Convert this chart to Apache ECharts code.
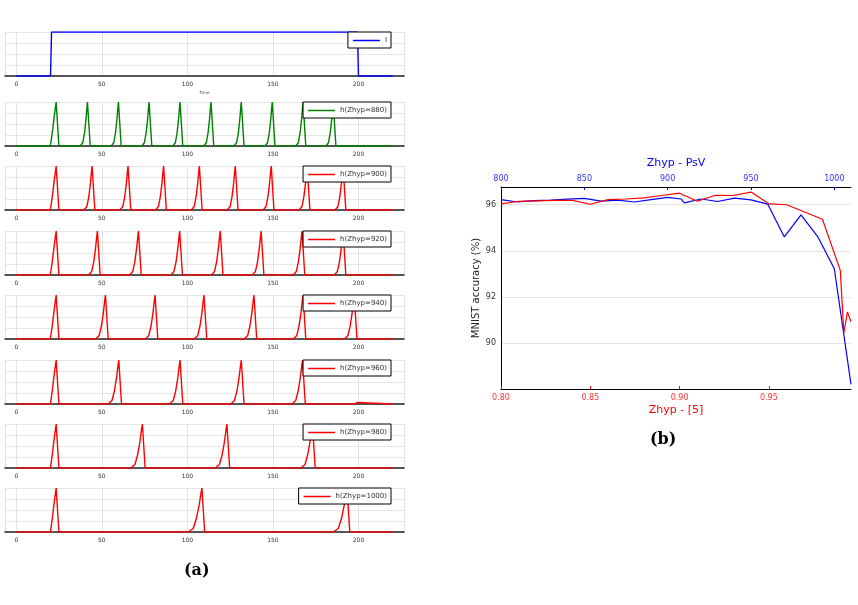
<!DOCTYPE html>
<html>
<head>
<meta charset="utf-8">
<title>Zhyp spikes / MNIST accuracy</title>
<script src="https://cdn.jsdelivr.net/npm/echarts@6.0.0/dist/echarts.min.js"></script>
<style>
	* { margin: 0; padding: 0; }
	body { background: #fff; }
	#main { width: 858px; height: 605px; }
</style>
</head>
<body>
<div id="main"></div>
<script>
	// ---- left panel (a): input current and h(t) for each Zhyp ----
	let timeTicks = [0, 50, 100, 150, 200];
	let currentI = [[0, 0], [20, 0], [20.6, 1], [199.4, 1], [200, 0], [220, 0]];
	let zhypNames = ['h(Zhyp=880)', 'h(Zhyp=900)', 'h(Zhyp=920)', 'h(Zhyp=940)', 'h(Zhyp=960)', 'h(Zhyp=980)', 'h(Zhyp=1000)'];
	let zhypColors = ['#008000', '#ff0000', '#ff0000', '#ff0000', '#ff0000', '#ff0000', '#ff0000'];
	// time at which each spike reaches its top
	let peaks880 = [23.3, 41.6, 59.7, 77.6, 95.7, 113.8, 131.5, 149.6, 167.6, 185.2];
	let peaks900 = [23.3, 44.3, 65.3, 86.1, 107, 128, 149, 170, 191];
	let peaks920 = [23.3, 47.4, 71.4, 95.5, 119.2, 143.1, 167, 191];
	let peaks940 = [23.3, 52.1, 81.1, 109.7, 138.9, 167.6, 197.5];
	let peaks960 = [23.3, 59.9, 95.7, 131.5, 167.3];
	let peaks980 = [23.3, 73.7, 123.1, 173.1];
	let peaks1000 = [23.3, 108.5, 193.3];
	let allPeaks = [peaks880, peaks900, peaks920, peaks940, peaks960, peaks980, peaks1000];
	// visible rise length of the later spikes
	let riseTimes = [4.2, 4.7, 5.2, 5.7, 6.2, 6.8, 8];
	// small bump cut off by the current switching off (960 only)
	let tail960 = [[197.5, 0], [199.6, 0.035], [200.4, 0]];
	// rise shapes (fraction of rise, h)
	let firstProfile = [[0, 0], [0.33, 0.3], [0.67, 0.68], [1, 1]];
	let spikeProfile = [[0, 0], [0.36, 0.08], [0.59, 0.3], [0.79, 0.6], [0.95, 0.92], [1, 1]];
	let firstRise = 3.4;
	let topHold = 0.8;
	let dropWidth = 0.8;

	// ---- right panel (b): MNIST accuracy ----
	let psvZhyp = [800, 810, 820, 830, 840, 850, 860, 870, 880, 890, 900, 908, 910, 920, 930, 940, 950, 960, 970, 980, 990, 1000, 1010];
	let psvAcc = [96.22, 96.12, 96.18, 96.2, 96.24, 96.28, 96.16, 96.2, 96.12, 96.22, 96.32, 96.25, 96.08, 96.25, 96.14, 96.29, 96.21, 96.03, 94.6, 95.56, 94.62, 93.22, 88.2];
	let refZhyp = [0.80, 0.81, 0.82, 0.83, 0.84, 0.85, 0.86, 0.87, 0.88, 0.89, 0.90, 0.91, 0.92, 0.93, 0.94, 0.95, 0.96, 0.98, 0.99, 0.992, 0.994, 0.996];
	let refAcc = [96.04, 96.15, 96.17, 96.19, 96.19, 96.02, 96.22, 96.25, 96.3, 96.4, 96.5, 96.15, 96.41, 96.4, 96.55, 96.04, 96.0, 95.37, 93.15, 90.42, 91.35, 90.92];

	let gridTops = [32, 102, 166, 231, 295, 360, 424, 488];
	let gridH = 44;

	function buildSpikes(peaks, rise, tail) {
		let pts = [[0, 0]];
		peaks.forEach((p, i) => {
			let prof = i === 0 ? firstProfile : spikeProfile;
			let r = i === 0 ? firstRise : rise;
			prof.forEach(([f, v]) => pts.push([p - r * (1 - f), v]));
			pts.push([p + topHold, 1]);
			pts.push([p + topHold + dropWidth, 0]);
		});
		if (tail) tail.forEach(t => pts.push(t));
		pts.push([220, 0]);
		return pts;
	}

	let myChart = echarts.init(document.getElementById('main'));

	let grids = [], xAxes = [], yAxes = [], series = [], legends = [];
	let leftNames = ['I'].concat(zhypNames);
	let leftColors = ['#0000ff'].concat(zhypColors);

	leftNames.forEach((name, i) => {
		grids.push({ left: 5, width: 399, top: gridTops[i], height: gridH });
		xAxes.push({
			gridIndex: i, type: 'value', min: -6.6, max: 226.6, offset: 1.5,
			name: i === 0 ? 'Time' : '', nameLocation: 'middle', nameGap: 13,
			nameTextStyle: { fontSize: 4, color: '#444', fontFamily: 'DejaVu Sans' },
			axisLine: { show: true, lineStyle: { color: '#222', width: 1.5 } },
			axisTick: { show: false },
			axisLabel: {
				fontSize: 6, color: '#333', margin: 4, fontFamily: 'DejaVu Sans',
				formatter: v => (timeTicks.indexOf(v) >= 0 ? String(v) : '')
			},
			splitLine: { show: true, lineStyle: { color: '#e2e2e2', width: 1 } }
		});
		yAxes.push({
			gridIndex: i, type: 'value', min: 0, max: 1, interval: 0.25,
			axisLine: { show: false }, axisTick: { show: false }, axisLabel: { show: false },
			splitLine: { show: true, lineStyle: { color: '#e6e6e6', width: 1 } }
		});
		let data = i === 0 ? currentI : buildSpikes(allPeaks[i - 1], riseTimes[i - 1], i === 5 ? tail960 : null);
		series.push({
			name: name, type: 'line', xAxisIndex: i, yAxisIndex: i,
			data: data, symbol: 'none', smooth: false, animation: false,
			lineStyle: { color: leftColors[i], width: 1.4 }, itemStyle: { color: leftColors[i] }
		});
		legends.push({
			data: [name], right: 467, top: gridTops[i], orient: 'vertical',
			icon: 'rect', itemWidth: 27, itemHeight: 1.5,
			padding: [5, 4, 4, 5], backgroundColor: '#fff',
			borderColor: '#000', borderWidth: 1, selectedMode: false,
			textStyle: { fontSize: 7, color: '#333', fontFamily: 'DejaVu Sans' }
		});
	});

	// right panel
	grids.push({ left: 501, right: 7, top: 187, bottom: 216 });
	xAxes.push({
		gridIndex: 8, type: 'value', position: 'bottom', min: 0.80, max: 0.996, interval: 0.05,
		name: 'Zhyp - [5]', nameLocation: 'middle', nameGap: 16,
		nameTextStyle: { fontSize: 11, color: '#ff0000', fontFamily: 'DejaVu Sans' },
		axisLine: { show: true, lineStyle: { color: '#000', width: 1 } },
		axisTick: { show: true, inside: true, length: 3, lineStyle: { color: '#ff0000' } },
		axisLabel: { fontSize: 8, color: '#ff3333', margin: 5, fontFamily: 'DejaVu Sans', showMaxLabel: false,
			formatter: v => v.toFixed(2) },
		splitLine: { show: false }
	});
	xAxes.push({
		gridIndex: 8, type: 'value', position: 'top', min: 800, max: 1010, interval: 50,
		name: 'Zhyp - PsV', nameLocation: 'middle', nameGap: 18,
		nameTextStyle: { fontSize: 11, color: '#0000ff', fontFamily: 'DejaVu Sans' },
		axisLine: { show: true, lineStyle: { color: '#000', width: 1 } },
		axisTick: { show: true, inside: true, length: 3, lineStyle: { color: '#0000ff' } },
		axisLabel: { fontSize: 8, color: '#3333ff', margin: 4, fontFamily: 'DejaVu Sans', showMaxLabel: false,
			formatter: v => String(v) },
		splitLine: { show: false }
	});
	yAxes.push({
		gridIndex: 8, type: 'value', min: 88, max: 96.77, interval: 2,
		name: 'MNIST accuracy (%)', nameLocation: 'middle', nameGap: 20,
		nameTextStyle: { fontSize: 10, color: '#222', fontFamily: 'DejaVu Sans' },
		axisLine: { show: true, lineStyle: { color: '#000', width: 1 } },
		axisTick: { show: false },
		axisLabel: { fontSize: 8, color: '#333', margin: 5, fontFamily: 'DejaVu Sans', showMinLabel: false, showMaxLabel: false },
		splitLine: { show: true, lineStyle: { color: '#e4e4e4', width: 1 } }
	});
	series.push({
		name: 'PsV', type: 'line', xAxisIndex: 9, yAxisIndex: 8,
		data: psvZhyp.map((z, k) => [z, psvAcc[k]]),
		symbol: 'none', animation: false, lineStyle: { color: '#0000ff', width: 1.2 }
	});
	series.push({
		name: 'ref5', type: 'line', xAxisIndex: 8, yAxisIndex: 8,
		data: refZhyp.map((z, k) => [z, refAcc[k]]),
		symbol: 'none', animation: false, lineStyle: { color: '#ff0000', width: 1.2 }
	});

	let option = {
		backgroundColor: '#fff',
		animation: false,
		grid: grids,
		xAxis: xAxes,
		yAxis: yAxes,
		legend: legends,
		series: series,
		graphic: [
			{ type: 'text', left: 184, top: 563, style: { text: '(a)', font: 'bold 16px "DejaVu Serif"', fill: '#000' } },
			{ type: 'text', left: 650, top: 432, style: { text: '(b)', font: 'bold 16px "DejaVu Serif"', fill: '#000' } }
		]
	};
	myChart.setOption(option);
</script>
</body>
</html>
